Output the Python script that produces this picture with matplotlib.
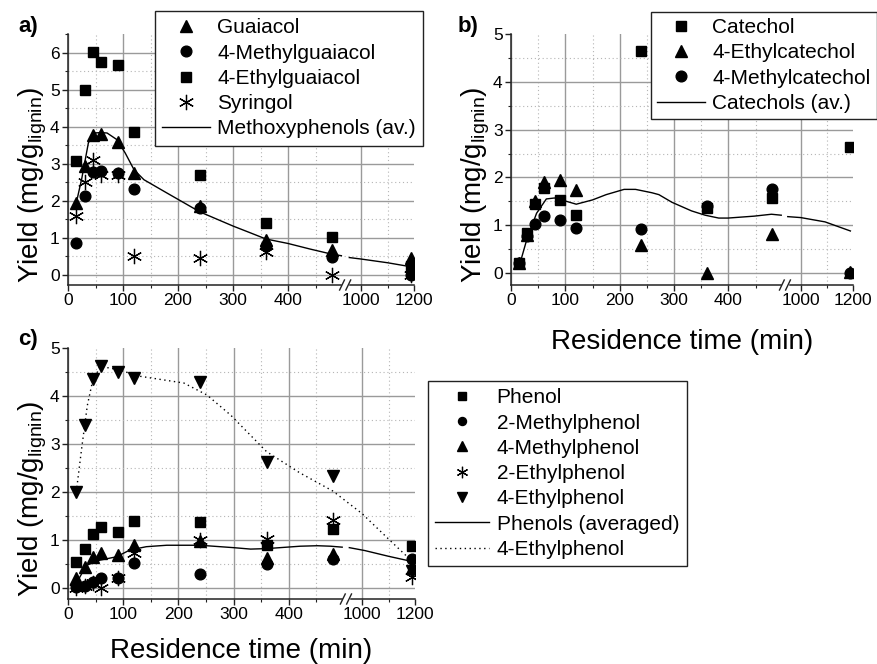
import numpy as np
import matplotlib
matplotlib.use('Agg')
import matplotlib.pyplot as plt
from matplotlib.ticker import FixedLocator, MultipleLocator

plt.rcParams['font.family'] = ['Liberation Sans', 'DejaVu Sans']
plt.rcParams['mathtext.fontset'] = 'custom'
plt.rcParams['mathtext.rm'] = 'Liberation Sans'

# residence times (min)
time = [15, 30, 45, 60, 90, 120, 240, 360, 480, 1190]

# a) methoxyphenols
guaiacol = [1.95, 2.93, 3.78, 3.80, 3.60, 2.75, 1.85, 0.95, 0.68, 0.46]
methylguaiacol = [0.85, 2.14, 2.79, 2.80, 2.74, 2.33, 1.80, 0.77, 0.49, 0.0]
ethylguaiacol = [3.07, 5.0, 6.02, 5.75, 5.67, 3.85, 2.71, 1.39, 1.03, 0.25]
syringol = [1.6, 2.52, 3.09, 2.70, 2.70, 0.52, 0.45, 0.62, 0.0, 0.0]
methoxy_x1 = [15, 25, 37, 46, 60, 71, 89, 104, 120, 138, 180, 240, 300, 331, 360, 400, 440, 480, 497]
methoxy_y1 = [1.94, 2.6, 3.56, 3.83, 3.84, 3.83, 3.65, 3.29, 2.84, 2.57, 2.21, 1.7, 1.32, 1.14, 0.97, 0.85, 0.7, 0.56, 0.52]
methoxy_x2 = [955, 1000, 1100, 1190]
methoxy_y2 = [0.47, 0.43, 0.33, 0.22]

# b) catechols
catechol = [0.21, 0.84, 1.45, 1.78, 1.53, 1.22, 4.65, 1.36, 1.57, 2.63]
ethylcatechol = [0.2, 0.8, 1.5, 1.91, 1.95, 1.74, 0.59, 0.0, 0.81, 0.03]
methylcatechol = [0.21, 0.77, 1.03, 1.2, 1.1, 0.95, 0.93, 1.41, 1.75, 0.0]
cat_x1 = [15, 29, 47, 65, 80, 102, 120, 150, 175, 208, 229, 259, 272, 296, 332, 357, 382, 399, 447, 479, 497]
cat_y1 = [0.14, 0.7, 1.25, 1.55, 1.57, 1.5, 1.44, 1.53, 1.64, 1.75, 1.75, 1.68, 1.64, 1.48, 1.3, 1.21, 1.15, 1.15, 1.19, 1.23, 1.21]
cat_x2 = [950, 1000, 1093, 1190]
cat_y2 = [1.18, 1.16, 1.07, 0.88]

# c) phenols
phenol = [0.54, 0.82, 1.12, 1.27, 1.16, 1.39, 1.37, 0.9, 1.22, 0.88]
methylphenol2 = [0.02, 0.05, 0.12, 0.2, 0.2, 0.53, 0.3, 0.49, 0.6, 0.61]
methylphenol4 = [0.2, 0.44, 0.65, 0.73, 0.68, 0.9, 0.98, 0.62, 0.7, 0.42]
ethylphenol2 = [0.0, 0.05, 0.1, 0.0, 0.2, 0.72, 1.0, 1.02, 1.41, 0.22]
ethylphenol4 = [2.0, 3.39, 4.35, 4.62, 4.51, 4.37, 4.3, 2.63, 2.34, 0.35]
ph_x1 = [15, 33, 58, 88, 112, 142, 179, 239, 300, 331, 360, 421, 452, 476, 497]
ph_y1 = [0.09, 0.47, 0.58, 0.65, 0.79, 0.86, 0.89, 0.89, 0.84, 0.81, 0.82, 0.87, 0.88, 0.87, 0.85]
ph_x2 = [952, 1010, 1100, 1190]
ph_y2 = [0.84, 0.78, 0.66, 0.55]
ep_x = [15, 25, 35, 43, 58, 90, 131, 210, 252, 295, 360, 420, 480, 1000, 1100, 1190]
ep_y = [2.0, 2.93, 3.8, 4.23, 4.62, 4.55, 4.41, 4.27, 4.02, 3.6, 2.84, 2.4, 2.02, 1.55, 1.02, 0.55]

x_major = [0, 100, 200, 300, 400, 1000, 1200]
x_minor = [50, 150, 250, 350, 450, 1100]


# broken time axis: 0-500 linear, then 950-1200 compressed
def fwd(x):
    x = np.asarray(x, dtype=float)
    return np.where(x <= 500, x,
                    np.where(x >= 950, 533 + (x - 1000) * 0.48,
                             500 + (x - 500) * 9 / 450))


def inv(m):
    m = np.asarray(m, dtype=float)
    return np.where(m <= 500, m,
                    np.where(m >= 509, 1000 + (m - 533) / 0.48,
                             500 + (m - 500) * 450 / 9))


AX = '#222222'


def style(ax, ymin, ymax):
    ax.set_xscale('function', functions=(fwd, inv))
    ax.set_xlim(0, 1200)
    ax.set_ylim(ymin, ymax)
    ax.xaxis.set_major_locator(FixedLocator(x_major))
    ax.xaxis.set_minor_locator(FixedLocator(x_minor))
    ax.set_xticklabels([str(v) for v in x_major])
    ax.yaxis.set_major_locator(MultipleLocator(1))
    ax.yaxis.set_minor_locator(MultipleLocator(0.5))
    ax.grid(which='major', color='#9a9a9a', lw=1.0)
    ax.grid(which='minor', color='#b5b5b5', lw=0.8, ls=(0, (1, 2.5)))
    ax.set_axisbelow(True)
    for s in ['top', 'right', 'bottom']:
        ax.spines[s].set_visible(False)
    ax.spines['left'].set_color(AX)
    ax.spines['left'].set_linewidth(1.1)
    ax.tick_params(which='major', direction='out', length=4, width=1.0,
                   color=AX, labelsize=12.5, pad=2)
    ax.tick_params(which='minor', direction='out', length=2.5, width=0.8, color=AX)
    # bottom axis line with a break
    ax.plot([0, 0.789], [0, 0], transform=ax.transAxes, color=AX, lw=1.1, clip_on=False)
    ax.plot([0.815, 1], [0, 0], transform=ax.transAxes, color=AX, lw=1.1, clip_on=False)
    for dx in (0.785, 0.803):
        ax.plot([dx, dx + 0.014], [-0.02, 0.02], transform=ax.transAxes,
                color=AX, lw=1.0, clip_on=False)
    ax.set_ylabel('Yield (mg/g$_\\mathregular{lignin}$)', fontsize=20)
    ax.yaxis.set_label_coords(-0.055, 0.40)
    fig.canvas.draw()
    for t in ax.yaxis.get_major_ticks():
        if abs(t.get_loc() - ymax) < 1e-6:
            t.gridline.set_visible(False)
    for t in ax.yaxis.get_minor_ticks():
        if abs(t.get_loc() - ymax) < 1e-6:
            t.gridline.set_visible(False)
    for t in ax.xaxis.get_major_ticks():
        if t.get_loc() == 1200:
            t.gridline.set_visible(False)


def add_legend(ax, handles, labels, x, y, hl=2.3, ms=1.0, bp=0.35):
    leg = ax.legend(handles, labels, loc='upper left', bbox_to_anchor=(x / 878, 1 - y / 664),
                    bbox_transform=fig.transFigure, fancybox=False, edgecolor=AX,
                    framealpha=1, fontsize=15, borderpad=bp, labelspacing=0.3,
                    handlelength=hl, handletextpad=0.35, borderaxespad=0, markerscale=ms)
    leg.get_frame().set_linewidth(1.0)
    return leg


fig = plt.figure(figsize=(8.78, 6.64), dpi=100)
ax_a = fig.add_axes([68 / 878, 1 - 285 / 664, 346 / 878, 251 / 664])
ax_b = fig.add_axes([511 / 878, 1 - 285 / 664, 342 / 878, 251 / 664])
ax_c = fig.add_axes([68 / 878, 1 - 599 / 664, 347 / 878, 251 / 664])

ast = (6, 2, 0)
mk = dict(color='black', linestyle='none')

# ---- a)
la, = ax_a.plot(methoxy_x1, methoxy_y1, color='black', lw=1.0)
ax_a.plot(methoxy_x2, methoxy_y2, color='black', lw=1.0)
ls_, = ax_a.plot(time, syringol, marker=ast, ms=11, mew=0.9, **mk)
le, = ax_a.plot(time, ethylguaiacol, marker='s', ms=7.7, **mk)
lg, = ax_a.plot(time, guaiacol, marker='^', ms=9, **mk)
lm, = ax_a.plot(time, methylguaiacol, marker='o', ms=7.7, **mk)
style(ax_a, -0.27, 6.5)
add_legend(ax_a, [lg, lm, le, ls_, la],
           ['Guaiacol', '4-Methylguaiacol', '4-Ethylguaiacol', 'Syringol', 'Methoxyphenols (av.)'],
           155, 11)

# ---- b)
lb, = ax_b.plot(cat_x1, cat_y1, color='black', lw=1.0)
ax_b.plot(cat_x2, cat_y2, color='black', lw=1.0)
sq, = ax_b.plot(time, catechol, marker='s', ms=7.7, **mk)
tr, = ax_b.plot(time, ethylcatechol, marker='^', ms=9, **mk)
ci, = ax_b.plot(time, methylcatechol, marker='o', ms=7.7, **mk)
style(ax_b, -0.25, 5)
ax_b.set_xlabel('Residence time (min)', fontsize=20, labelpad=15)
add_legend(ax_b, [sq, tr, ci, lb],
           ['Catechol', '4-Ethylcatechol', '4-Methylcatechol', 'Catechols (av.)'],
           651, 12, bp=0.3)

# ---- c)
lp, = ax_c.plot(ph_x1, ph_y1, color='black', lw=1.0)
ax_c.plot(ph_x2, ph_y2, color='black', lw=1.0)
ld, = ax_c.plot(ep_x, ep_y, color='black', lw=1.0, ls=(0, (1, 2.5)))
p1, = ax_c.plot(time, phenol, marker='s', ms=7.7, **mk)
p3, = ax_c.plot(time, methylphenol4, marker='^', ms=9, **mk)
p2, = ax_c.plot(time, methylphenol2, marker='o', ms=7.7, **mk)
p4, = ax_c.plot(time, ethylphenol2, marker=ast, ms=11, mew=0.9, **mk)
p5, = ax_c.plot(time, ethylphenol4, marker='v', ms=9, **mk)
style(ax_c, -0.23, 5)
ax_c.set_xlabel('Residence time (min)', fontsize=20, labelpad=11)
add_legend(ax_c, [p1, p2, p3, p4, p5, lp, ld],
           ['Phenol', '2-Methylphenol', '4-Methylphenol', '2-Ethylphenol', '4-Ethylphenol',
            'Phenols (averaged)', '4-Ethylphenol'],
           428, 381, hl=2.6, ms=0.75, bp=0.35)

# panel letters
fig.text(18 / 878, 1 - 32 / 664, 'a)', fontsize=16, fontweight='bold', va='baseline')
fig.text(458 / 878, 1 - 32 / 664, 'b)', fontsize=16, fontweight='bold', va='baseline')
fig.text(18 / 878, 1 - 345 / 664, 'c)', fontsize=16, fontweight='bold', va='baseline')

fig.savefig('out.png', dpi=100)
